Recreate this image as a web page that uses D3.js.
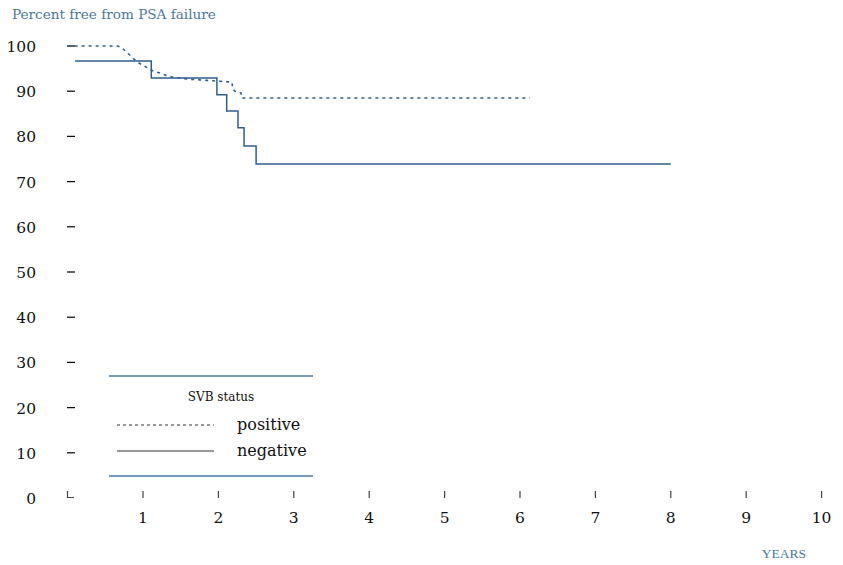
<!DOCTYPE html>
<html>
<head>
<meta charset="utf-8">
<script src="https://cdn.jsdelivr.net/npm/d3@7"></script>
<style>
  body { margin: 0; background: #fff; }
  text { font-family: "DejaVu Serif", "Liberation Serif", serif; }
</style>
</head>
<body>
<div class="svgClass"></div>
<script>
// survival curves (years, percent free)
var negTimes = [0.1, 1.11, 1.11, 1.98, 1.98, 2.11, 2.11, 2.26, 2.26, 2.34, 2.34, 2.5, 2.5, 8.0];
var negValues = [96.7, 96.7, 92.9, 92.9, 89.2, 89.2, 85.6, 85.6, 81.9, 81.9, 77.9, 77.9, 73.9, 73.9];

var posTimes = [0, 0.66, 0.72, 0.85, 0.92, 0.99, 1.07, 1.13, 1.23, 1.32, 1.4, 1.49, 1.58, 1.66, 1.75, 1.85, 1.93, 2.02, 2.11, 2.18, 2.19, 2.23, 2.3, 2.31, 6.13];
var posValues = [100, 100, 99.6, 97.6, 96.5, 95.8, 95.1, 94.5, 94.0, 93.4, 93.1, 92.9, 92.7, 92.6, 92.5, 92.4, 92.3, 92.2, 92.1, 92.0, 90.5, 89.8, 89.6, 88.5, 88.5];

var yTicks = [0, 10, 20, 30, 40, 50, 60, 70, 80, 90, 100];
var xTicks = [1, 2, 3, 4, 5, 6, 7, 8, 9, 10];
var legendLabels = ['positive', 'negative'];

var blue = '#2f5f8c';

var svg = d3.select('.svgClass')
  .append('svg')
  .attr('width', 843)
  .attr('height', 565);

var x = d3.scaleLinear().domain([0, 10]).range([67.6, 821.6]);
var y = d3.scaleLinear().domain([0, 100]).range([498, 46]);

svg.append('text').attr('x', 12).attr('y', 19)
  .style('font-size', '13.6px').style('fill', '#4a78a2')
  .text('Percent free from PSA failure');

// y axis: dashes + labels
svg.selectAll('.ytick').data(yTicks.filter(function (d) { return d > 0; })).enter()
  .append('line')
  .attr('x1', 67).attr('x2', 75)
  .attr('y1', function (d) { return y(d); }).attr('y2', function (d) { return y(d); })
  .style('stroke', '#111').style('stroke-width', 1.3);

svg.selectAll('.ylab').data(yTicks).enter()
  .append('text')
  .attr('x', 36).attr('y', function (d) { return y(d) + 6; })
  .attr('text-anchor', 'end')
  .style('font-size', '15.5px').style('fill', '#111')
  .text(function (d) { return d; });

// corner mark at origin
svg.append('path').attr('d', 'M67.5,491 V497.5 H74')
  .style('fill', 'none').style('stroke', '#444').style('stroke-width', 1.2);

// x axis ticks + labels
svg.selectAll('.xtick').data(xTicks).enter()
  .append('line')
  .attr('x1', function (d) { return x(d); }).attr('x2', function (d) { return x(d); })
  .attr('y1', 491).attr('y2', 498)
  .style('stroke', '#444').style('stroke-width', 1.2);

svg.selectAll('.xlab').data(xTicks).enter()
  .append('text')
  .attr('x', function (d) { return x(d); }).attr('y', 523)
  .attr('text-anchor', 'middle')
  .style('font-size', '15.5px').style('fill', '#111')
  .text(function (d) { return d; });

svg.append('text').attr('x', 784).attr('y', 558)
  .attr('text-anchor', 'middle')
  .style('font-family', '"Liberation Serif", serif')
  .style('font-size', '13.5px').style('fill', '#4a78a2')
  .text('YEARS');

// curves
var line = d3.line()
  .x(function (d) { return x(d[0]); })
  .y(function (d) { return y(d[1]); });

var posData = d3.zip(posTimes, posValues);
var negData = d3.zip(negTimes, negValues);

svg.append('path').datum(posData).attr('d', line)
  .style('fill', 'none').style('stroke', blue).style('stroke-width', 1.6)
  .style('stroke-dasharray', '3,4');

svg.append('path').datum(negData).attr('d', line)
  .style('fill', 'none').style('stroke', blue).style('stroke-width', 1.5);

// legend
svg.append('line').attr('x1', 109).attr('x2', 313).attr('y1', 376).attr('y2', 376)
  .style('stroke', '#4a78a2').style('stroke-width', 1.3);
svg.append('line').attr('x1', 109).attr('x2', 313).attr('y1', 476).attr('y2', 476)
  .style('stroke', '#4a78a2').style('stroke-width', 1.3);

svg.append('text').attr('x', 221).attr('y', 401)
  .attr('text-anchor', 'middle')
  .style('font-size', '12px').style('fill', '#111')
  .text('SVB status');

svg.selectAll('.legline').data(legendLabels).enter()
  .append('line')
  .attr('x1', 117).attr('x2', 214)
  .attr('y1', function (d, i) { return 425 + i * 26; })
  .attr('y2', function (d, i) { return 425 + i * 26; })
  .style('stroke', '#333').style('stroke-width', 1)
  .style('stroke-dasharray', function (d, i) { return i === 0 ? '3,3' : null; });

svg.selectAll('.leglab').data(legendLabels).enter()
  .append('text')
  .attr('x', 237).attr('y', function (d, i) { return 430 + i * 26; })
  .style('font-size', '16px').style('fill', '#111')
  .text(function (d) { return d; });
</script>
</body>
</html>
